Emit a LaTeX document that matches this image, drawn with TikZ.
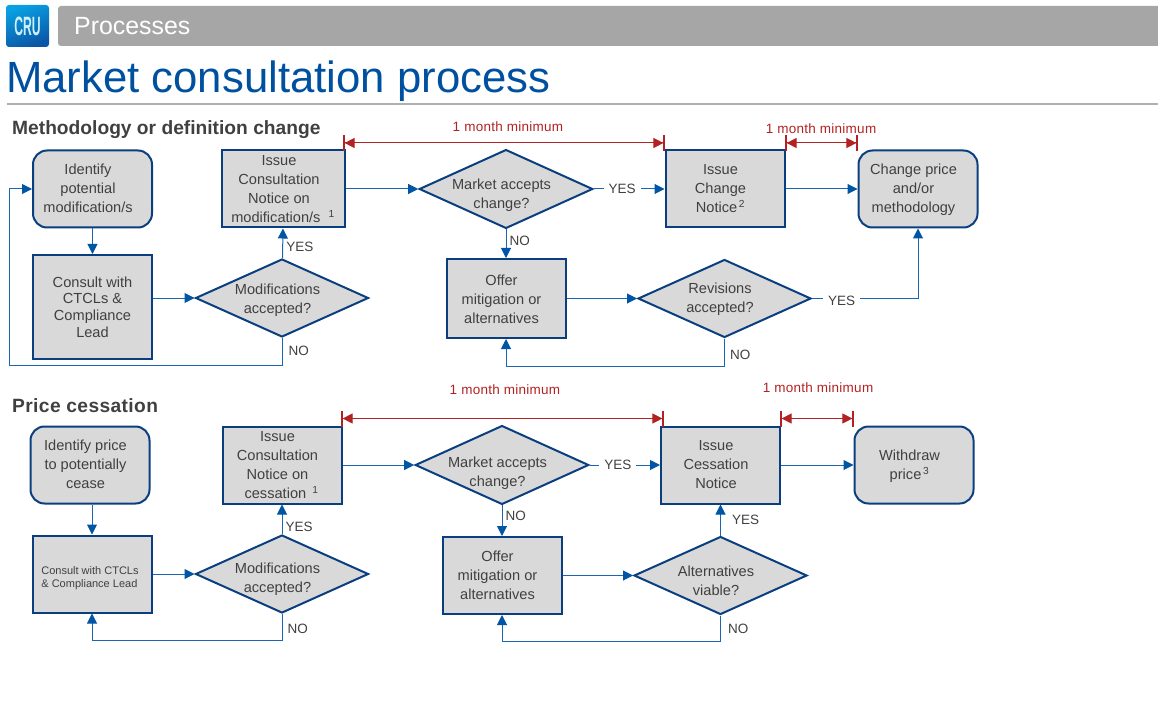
\documentclass[tikz,border=0pt]{standalone}
\usepackage{fontspec}
\setmainfont{Liberation Sans}
\usetikzlibrary{arrows.meta,shapes.geometric}
\definecolor{boxedge}{HTML}{0A3F7F}
\definecolor{boxfill}{HTML}{D9D9D9}
\definecolor{flowblue}{HTML}{1B66B1}
\definecolor{tipblue}{HTML}{0055A5}
\definecolor{spanred}{HTML}{B22222}
\definecolor{inktext}{HTML}{404040}
\definecolor{titleblue}{HTML}{0050A0}
\definecolor{bargray}{HTML}{A6A6A6}
\definecolor{rulegray}{HTML}{B0B0B0}
\definecolor{logotop}{HTML}{0AA0E2}
\definecolor{logobottom}{HTML}{0A55A5}
\newcommand{\offtext}[2][-1pt]{\raisebox{#1}[\height][\depth]{\kern-9pt\begin{tabular}{@{}c@{}}#2\end{tabular}}}

\begin{document}
\begin{tikzpicture}[x=1pt,y=-1pt,
	base node/.style={draw=boxedge,fill=boxfill,line width=2pt,text=inktext,align=center,inner sep=0pt,font=\fontsize{14.6}{19}\selectfont},
	proc node/.style={base node,rectangle,minimum width=119pt,minimum height=77pt},
	term node/.style={proc node,rounded corners=14pt},
	dec node/.style={base node,diamond,aspect=2.2,minimum width=173pt,minimum height=78pt},
	flow line/.style={draw=flowblue,line width=1pt,-{Triangle[length=10pt,width=10pt,color=tipblue]}},
	flow label/.style={text=inktext,font=\fontsize{13.5}{15}\selectfont,inner sep=3pt},
	gap label/.style={flow label,fill=white,inner sep=5pt},
	span line/.style={draw=spanred,line width=1pt,{Bar[width=16pt,line width=1.6pt].Triangle[length=10pt,width=10pt]}-},
	span label/.style={text=spanred,font=\fontsize{13.5}{15}\selectfont\addfontfeature{LetterSpace=2},inner sep=0pt},
	head label/.style={text=inktext,font=\fontsize{19.2}{20}\bfseries\selectfont,inner sep=0pt,anchor=base west}]

	\useasboundingbox (0,0) rectangle (1158,711);

	\node[rounded corners=3pt,minimum width=43pt,minimum height=42pt,inner sep=0pt,top color=logotop,bottom color=logobottom,shading angle=20] (logo) at (27.5,26) {};
	\node[text=white!80!cyan,font=\fontsize{26.5}{26}\bfseries\selectfont,xscale=.46,inner sep=0pt] (logotext) at (logo) {CRU};
	\fill[bargray,rounded corners=3pt] (58,6) rectangle (1170,46);
	\node[text=white,font=\fontsize{24.9}{26}\selectfont,inner sep=0pt,anchor=base west] (section) at (74,35) {Processes};
	\node[text=titleblue,font=\fontsize{43.7}{48}\selectfont,inner sep=0pt,anchor=base west] (title) at (6,93) {Market consultation process};
	\draw[rulegray,line width=2pt] (7,104.5) -- (1158,104.5);

	\node[head label] (heada) at (12,135) {Methodology or definition change};
	\node[term node] (ida) at (92.5,189) {\offtext{Identify\\potential\\modification/s}};
	\node[proc node,minimum height=104pt,font=\fontsize{14.6}{16.8}\selectfont] (consulta) [below of=ida,node distance=118pt] {Consult with\\CTCLs \&\\Compliance\\Lead};
	\node[proc node,minimum width=123pt] (noticea) [right of=ida,node distance=191pt] {\offtext{Issue\\Consultation\\Notice on\\\hspace*{8pt}modification/s\hspace{8pt}\textsuperscript{1}}};
	\node[dec node] (moda) [below of=noticea,node distance=109pt,xshift=-1.5pt] {\offtext[-2.5pt]{Modifications\\accepted?}};
	\node[dec node] (accepta) [right of=noticea,node distance=222.5pt] {\offtext[-6pt]{Market accepts\\change?}};
	\node[proc node,minimum height=79pt] (offera) [below of=accepta,node distance=109.5pt] {\offtext[-2.5pt]{Offer\\mitigation or\\alternatives}};
	\node[dec node] (revisions) [right of=offera,node distance=218.5pt] {\offtext{Revisions\\accepted?}};
	\node[proc node] (changenotice) [right of=accepta,node distance=219pt] {\offtext{Issue\\Change\\Notice\textsuperscript{\,2}}};
	\node[term node] (changeprice) [right of=changenotice,node distance=193pt] {\offtext{Change price\\and/or\\methodology}};

	\coordinate (loopa) at (9,365);
	\coordinate (loopb) at (506,366);

	\path[flow line]
	(ida) edge (consulta)
	(moda) edge node[flow label,right,yshift=-3pt] (yesa) {YES} (noticea)
	(noticea) edge (accepta)
	(accepta) edge node[gap label,pos=.4] (yesb) {YES} (changenotice)
	(accepta) edge node[flow label,right,pos=.4] (noa) {NO} (offera)
	(offera) edge (revisions)
	(changenotice) edge (changeprice);
	\draw[flow line] (consulta.east |- moda) -- (moda);
	\draw[flow line] (moda.south) |- node[flow label,right,pos=.23,xshift=3pt] (nob) {NO} (loopa) |- (ida.west);
	\draw[flow line] (revisions.south) |- node[flow label,right,pos=.25,xshift=2pt,yshift=-3pt] (noc) {NO} (loopb) -- (offera.south);
	\draw[flow line] (revisions.east) -| node[gap label,pos=.14,yshift=-2pt] (yesc) {YES} (changeprice.south);

	\coordinate (spanaw) at (343,143);
	\coordinate (spanae) at (665,143);
	\coordinate (spanbw) at (785,143);
	\coordinate (spanbe) at (858,143);
	\draw[span line] (spanaw) -- (spanae);
	\draw[span line] (spanae) -- (spanaw);
	\draw[span line] (spanbw) -- (spanbe);
	\draw[span line] (spanbe) -- (spanbw);
	\node[span label] (montha) at (508,127) {1 month minimum};
	\node[span label] (monthb) at (821,129) {1 month minimum};

	\node[head label,font=\fontsize{19.2}{20}\bfseries\selectfont\addfontfeature{LetterSpace=2}] (headb) at (12,412) {Price cessation};
	\node[term node] (idb) at (90,465) {\offtext{Identify price\\to potentially\\cease}};
	\node[proc node,font=\fontsize{11}{13}\selectfont] (consultb) [below of=idb,node distance=109pt,xshift=2pt] {\raisebox{-4pt}[\height][\depth]{\kern-4pt\begin{tabular}{@{}l@{}}Consult with CTCLs\\\& Compliance Lead\end{tabular}}};
	\node[proc node] (noticeb) [right of=idb,node distance=192pt] {\offtext{Issue\\Consultation\\Notice on\\\hspace*{8pt}cessation\hspace{6pt}\textsuperscript{1}}};
	\node[dec node] (modb) [below of=noticeb,node distance=109pt] {\offtext[-5.5pt]{Modifications\\accepted?}};
	\node[dec node] (acceptb) [right of=noticeb,node distance=220pt] {\offtext[-8.5pt]{Market accepts\\change?}};
	\node[proc node] (offerb) [below of=acceptb,node distance=110.5pt] {\offtext{Offer\\mitigation or\\alternatives}};
	\node[dec node] (viable) [right of=offerb,node distance=218.5pt] {\offtext[-6.5pt]{Alternatives\\viable?}};
	\node[proc node] (cessation) [right of=acceptb,node distance=218.5pt] {\offtext{Issue\\Cessation\\Notice}};
	\node[term node] (withdraw) [right of=cessation,node distance=193.5pt] {\offtext{Withdraw\\price\textsuperscript{\,3}}};

	\coordinate (loopc) at (92,640);
	\coordinate (loopd) at (502,641);

	\draw[flow line] (consultb |- idb.south) -- (consultb);
	\path[flow line]
	(consultb) edge (modb)
	(modb) edge node[flow label,right,yshift=-8pt] (yesd) {YES} (noticeb)
	(noticeb) edge (acceptb)
	(acceptb) edge node[gap label,pos=.4] (yese) {YES} (cessation)
	(acceptb) edge node[flow label,right,pos=.35] (nod) {NO} (offerb)
	(offerb) edge (viable)
	(viable) edge node[flow label,right,xshift=8pt] (yesf) {YES} (cessation)
	(cessation) edge (withdraw);
	\draw[flow line] (modb.south) |- node[flow label,right,pos=.25,xshift=2pt,yshift=-2pt] (noe) {NO} (loopc) -- (consultb.south);
	\draw[flow line] (viable.south) |- node[flow label,right,pos=.25,xshift=4pt,yshift=-1pt] (nof) {NO} (loopd) -- (offerb.south);

	\coordinate (spancw) at (341,418.5);
	\coordinate (spance) at (664,418.5);
	\coordinate (spandw) at (780,418.5);
	\coordinate (spande) at (854,418.5);
	\draw[span line] (spancw) -- (spance);
	\draw[span line] (spance) -- (spancw);
	\draw[span line] (spandw) -- (spande);
	\draw[span line] (spande) -- (spandw);
	\node[span label] (monthc) at (505,390) {1 month minimum};
	\node[span label] (monthd) at (818,388) {1 month minimum};
\end{tikzpicture}
\end{document}
